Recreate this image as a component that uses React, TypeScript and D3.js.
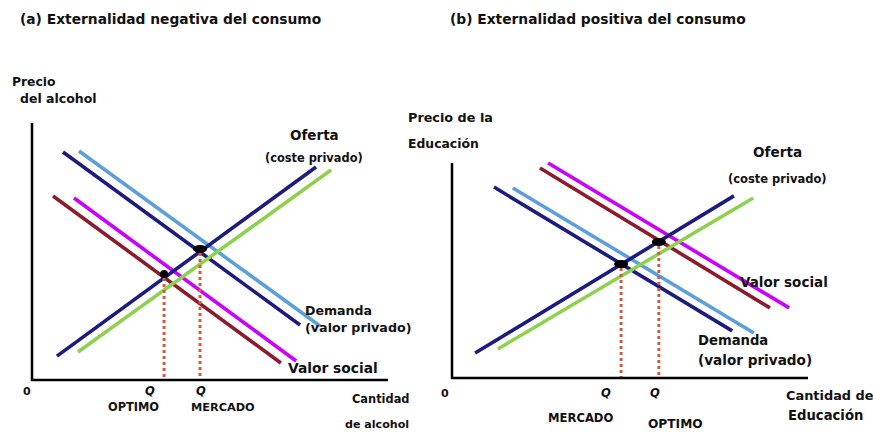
import React from "react";
import * as d3 from "d3";

// values, in chart units (quantity 0..10, price 0..10)
const leftDemand = [[0.87, 8.87], [7.53, 2.14]];
const leftDemandShift = [[1.32, 8.91], [8.09, 2.1]];
const leftSupply = [[0.7, 0.93], [7.98, 8.29]];
const leftSupplyShift = [[1.29, 1.09], [8.4, 8.17]];
const leftSocial = [[0.59, 7.16], [6.99, 0.66]];
const leftSocialShift = [[1.18, 7.08], [7.42, 0.74]];
const leftEquilibria = [[3.71, 4.12], [4.72, 5.1]];

const rightDemand = [[1.18, 8.88], [7.87, 2.19]];
const rightDemandShift = [[1.71, 8.84], [8.48, 2.09]];
const rightSupply = [[0.65, 1.16], [7.92, 8.47]];
const rightSupplyShift = [[1.29, 1.35], [8.46, 8.37]];
const rightSocial = [[2.47, 9.77], [8.93, 3.26]];
const rightSocialShift = [[2.7, 10.0], [9.47, 3.26]];
const rightEquilibria = [[4.75, 5.3], [5.81, 6.33]];

const colors = {
  navy: "#1c1c7c",
  sky: "#5c9fdb",
  green: "#8fd14f",
  wine: "#8c1c2c",
  magenta: "#cc00ff",
  dash: "#d65a3a",
};

const font = "'DejaVu Sans', Verdana, sans-serif";

type Pt = number[];

function Panel({ x0, x1, y0, y1, curves, dots, wide }) {
  const xs = d3.scaleLinear().domain([0, 10]).range([x0, x1]);
  const ys = d3.scaleLinear().domain([0, 10]).range([y0, y1]);
  const line = d3
    .line<Pt>()
    .x((d) => xs(d[0]))
    .y((d) => ys(d[1]));
  return (
    <g>
      {curves.map((c, i) => (
        <path key={i} d={line(c.pts) || ""} stroke={c.color} strokeWidth={3.6} fill="none" />
      ))}
      {dots.map((d, i) => (
        <line
          key={"v" + i}
          x1={xs(d[0])}
          x2={xs(d[0])}
          y1={ys(d[1]) + 4}
          y2={y0}
          stroke={colors.dash}
          strokeWidth={3}
          strokeDasharray="3,3"
        />
      ))}
      {dots.map((d, i) => (
        <ellipse
          key={"d" + i}
          cx={xs(d[0])}
          cy={ys(d[1])}
          rx={wide[i] ? 7 : 4}
          ry={4}
          fill="#000"
        />
      ))}
      <path d={`M${x0},${y1}V${y0}H${x1}`} stroke="#000" strokeWidth={2.5} fill="none" />
    </g>
  );
}

export default function App() {
  const leftCurves = [
    { pts: leftDemand, color: colors.navy },
    { pts: leftDemandShift, color: colors.sky },
    { pts: leftSocial, color: colors.wine },
    { pts: leftSocialShift, color: colors.magenta },
    { pts: leftSupply, color: colors.navy },
    { pts: leftSupplyShift, color: colors.green },
  ];
  const rightCurves = [
    { pts: rightDemand, color: colors.navy },
    { pts: rightDemandShift, color: colors.sky },
    { pts: rightSocial, color: colors.wine },
    { pts: rightSocialShift, color: colors.magenta },
    { pts: rightSupply, color: colors.navy },
    { pts: rightSupplyShift, color: colors.green },
  ];
  const T = (x, y, s, size, extra = {}) => (
    <text x={x} y={y} fontSize={size} fontWeight="bold" fontFamily={font} fill="#111" {...extra}>
      {s}
    </text>
  );
  return (
    <svg
      width={873}
      height={432}
      style={{ position: "absolute", left: 0, top: 0, background: "#fff" }}
    >
      <rect width={873} height={432} fill="#fff" />
      {T(20, 24, "(a) Externalidad negativa del consumo", 13.8)}
      {T(450, 24, "(b) Externalidad positiva del consumo", 13.8)}

      <Panel x0={32} x1={388} y0={380} y1={123} curves={leftCurves} dots={leftEquilibria} wide={[false, true]} />
      <Panel x0={452} x1={808} y0={378} y1={163} curves={rightCurves} dots={rightEquilibria} wide={[true, true]} />

      {T(12, 86, "Precio", 12.3)}
      {T(20, 103, "del alcohol", 12.5)}
      {T(290, 140, "Oferta", 13.5)}
      {T(265, 162, "(coste privado)", 11.4)}
      {T(305, 315, "Demanda", 12.6)}
      {T(305, 332, "(valor privado)", 12.7)}
      {T(288, 373, "Valor social", 13.8)}
      {T(23, 395, "0", 11)}
      {T(145, 395, "Q", 11.5, { fontStyle: "italic" })}
      {T(196, 395, "Q", 11.5, { fontStyle: "italic" })}
      {T(108, 411, "OPTIMO", 11.4)}
      {T(191, 411, "MERCADO", 11.3)}
      {T(352, 403, "Cantidad", 11.4)}
      {T(345, 428, "de alcohol", 11.1)}

      {T(408, 122, "Precio de la", 12.8)}
      {T(408, 148, "Educación", 12.4)}
      {T(753, 157, "Oferta", 13.6)}
      {T(728, 183, "(coste privado)", 11.5)}
      {T(740, 287, "Valor social", 13.5)}
      {T(698, 345, "Demanda", 13.2)}
      {T(698, 365, "(valor privado)", 13.6)}
      {T(441, 397, "0", 11)}
      {T(601, 397, "Q", 11.5, { fontStyle: "italic" })}
      {T(650, 397, "Q", 11.5, { fontStyle: "italic" })}
      {T(548, 422, "MERCADO", 11.6)}
      {T(648, 428, "OPTIMO", 12.2)}
      {T(786, 400, "Cantidad de", 12.9)}
      {T(788, 420, "Educación", 13.2)}
    </svg>
  );
}
